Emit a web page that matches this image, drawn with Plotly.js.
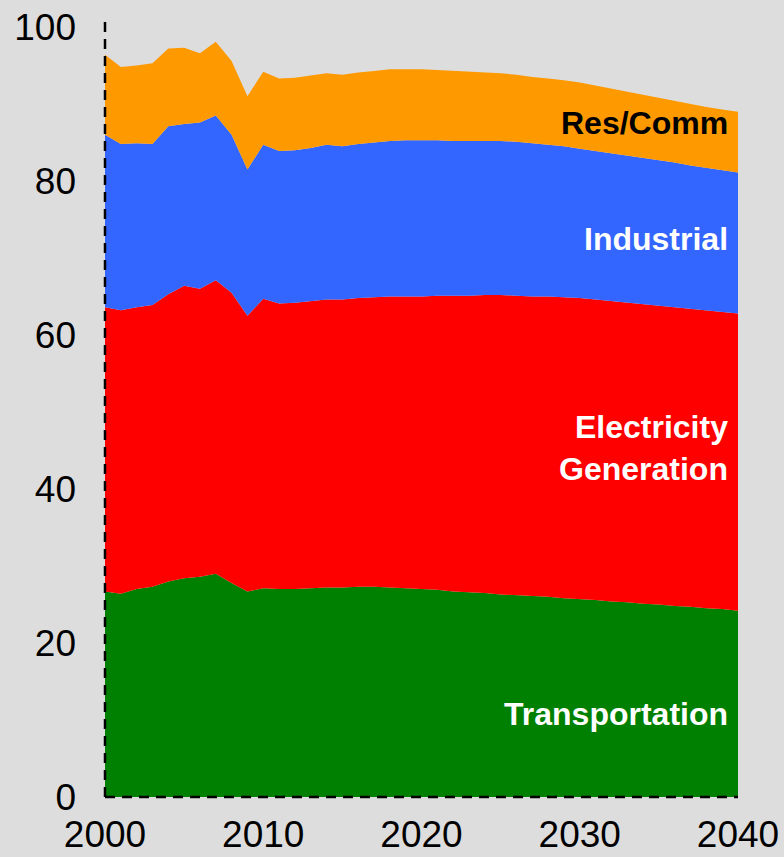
<!DOCTYPE html>
<html>
<head>
<meta charset="utf-8">
<script src="https://cdn.plot.ly/plotly-3.0.1.min.js"></script>
<style>html,body{margin:0;padding:0;background:#dddddd;}#chart{width:784px;height:857px;}</style>
</head>
<body>
<div id="chart"></div>
<script>
const years = [2000,2001,2002,2003,2004,2005,2006,2007,2008,2009,2010,2011,2012,2013,2014,2015,2016,2017,2018,2019,2020,2021,2022,2023,2024,2025,2026,2027,2028,2029,2030,2031,2032,2033,2034,2035,2036,2037,2038,2039,2040];
const transportation = [26.7,26.4,27.0,27.3,28.0,28.4,28.6,29.0,27.8,26.7,27.1,27.0,27.0,27.1,27.2,27.2,27.3,27.3,27.2,27.1,27.0,26.9,26.7,26.6,26.5,26.3,26.2,26.1,26.0,25.8,25.7,25.6,25.4,25.3,25.1,25.0,24.8,24.7,24.5,24.4,24.2];
const electricity = [36.9,36.8,36.6,36.6,37.3,38.0,37.4,38.1,37.7,35.8,37.6,37.1,37.2,37.3,37.4,37.4,37.5,37.6,37.8,37.9,38.0,38.2,38.4,38.5,38.7,38.9,38.9,38.9,39.0,39.1,39.1,39.0,39.0,38.9,38.9,38.8,38.8,38.7,38.7,38.6,38.6];
const industrial = [22.4,21.6,21.3,20.9,21.8,21.0,21.6,21.4,20.5,19.0,20.0,19.8,19.8,19.9,20.1,19.9,20.0,20.1,20.2,20.3,20.3,20.2,20.1,20.1,20.0,20.0,20.0,19.9,19.7,19.6,19.4,19.3,19.2,19.1,19.0,18.9,18.8,18.6,18.5,18.4,18.3];
const resComm = [10.4,10.0,10.1,10.5,10.1,9.9,9.0,9.6,9.6,9.5,9.5,9.4,9.4,9.4,9.3,9.3,9.3,9.3,9.3,9.2,9.2,9.1,9.1,9.0,8.9,8.8,8.7,8.6,8.6,8.6,8.6,8.5,8.4,8.3,8.2,8.1,8.0,8.0,7.9,7.9,7.9];
const seriesNames = ["Transportation","Electricity<br>Generation","Industrial","Res/Comm"];
const yTicks = [0,20,40,60,80,100];
const xTicks = [2000,2010,2020,2030,2040];

const colors = ["#008000","#ff0000","#3366ff","#ff9900"];
const labelColors = ["#ffffff","#ffffff","#ffffff","#000000"];
const labelY = [10.8,45.3,72.5,87.5];
const series = [transportation, electricity, industrial, resComm];

const traces = series.map((vals,i)=>({
  x: years, y: vals, type: 'scatter', mode: 'lines',
  stackgroup: 'one', line: {width: 0, color: colors[i]},
  fillcolor: colors[i], name: seriesNames[i], hoverinfo: 'skip'
}));

const annotations = seriesNames.map((n,i)=>({
  x: 2040, y: labelY[i], xref: 'x', yref: 'y', text: '<b>'+n+'</b>',
  xanchor: 'right', yanchor: 'middle', align: 'right', showarrow: false, xshift: -8,
  font: {family: 'Liberation Sans, Arial, sans-serif', size: 32, color: labelColors[i]}
}));

const layout = {
  width: 784, height: 857,
  margin: {l: 105, r: 46, t: 27, b: 60, pad: 0},
  paper_bgcolor: '#dddddd', plot_bgcolor: '#dddddd',
  showlegend: false,
  font: {family: 'Liberation Sans, Arial, sans-serif', size: 37, color: '#000000'},
  xaxis: {range: [2000, 2040], tickvals: xTicks, ticktext: xTicks.map(String), showgrid: false, zeroline: false,
          showline: false, ticks: '', ticklabelstandoff: 12, tickfont: {size: 37}},
  yaxis: {range: [0, 100], tickvals: yTicks, ticktext: yTicks.map(String), showgrid: false, zeroline: false,
          showline: false, ticks: '', ticklabelstandoff: 28, tickfont: {size: 37}},
  annotations: annotations,
  shapes: [
    {type: 'line', layer: 'above', xref: 'paper', yref: 'paper', x0: 0, x1: 0, y0: 0, y1: 1.01, line: {color: '#000', width: 2.5, dash: '10px,7px'}},
    {type: 'line', layer: 'above', xref: 'paper', yref: 'paper', x0: 0, x1: 1, y0: 0, y1: 0, line: {color: '#000', width: 2.5, dash: '10px,7px'}}
  ]
};

Plotly.newPlot('chart', traces, layout, {displayModeBar: false, staticPlot: true});
</script>
</body>
</html>
